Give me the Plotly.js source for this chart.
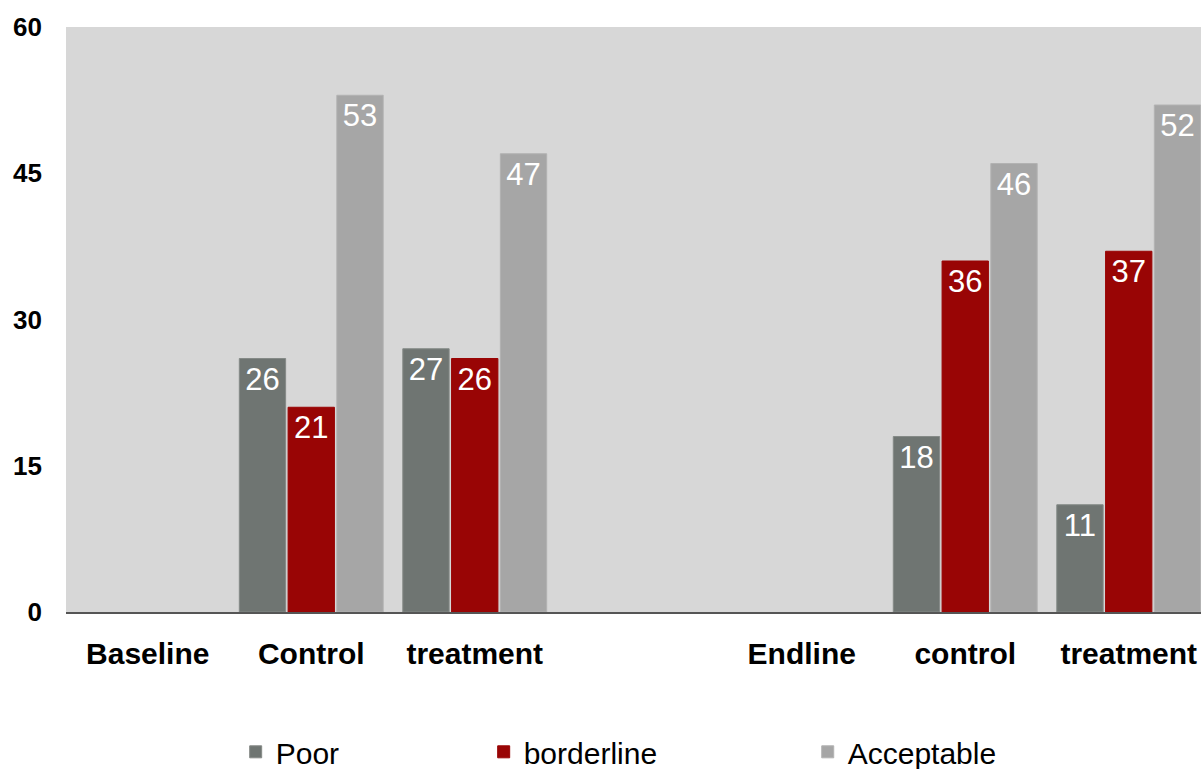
<!DOCTYPE html>
<html>
<head>
<meta charset="utf-8">
<script src="https://cdn.plot.ly/plotly-3.0.1.min.js"></script>
<style>
  html, body { margin: 0; padding: 0; background: #ffffff; }
  #chart { width: 1201px; height: 769px; }
</style>
</head>
<body>
<div id="chart"></div>
<script>
// Categories (the 4th slot is an empty spacer between the two survey rounds)
const categories = ['Baseline', 'Control', 'treatment', '', 'Endline', 'control', 'treatment'];
const seriesNames = ['Poor', 'borderline', 'Acceptable'];
const poor       = [null, 26, 27, null, null, 18, 11];
const borderline = [null, 21, 26, null, null, 36, 37];
const acceptable = [null, 53, 47, null, null, 46, 52];
const yTicks = [0, 15, 30, 45, 60];

const colors = ['#6f7572', '#990505', '#a6a6a6'];
const edgeColors = ['#858a87', '#990505', '#b2b2b2'];
const xIdx = categories.map((_, i) => i);
const FONT = 'Liberation Sans, Arial, Helvetica, sans-serif';

function mk(vals, i) {
  return {
    type: 'bar',
    name: seriesNames[i],
    x: xIdx,
    y: vals,
    text: vals.map(v => v == null ? '' : String(v)),
    textposition: 'inside',
    insidetextanchor: 'end',
    textangle: 0,
    constraintext: 'none',
    textfont: { family: FONT, size: 31, color: '#ffffff' },
    marker: { color: colors[i], line: { color: edgeColors[i], width: 1 } },
    hoverinfo: 'skip',
    legend: i === 0 ? 'legend' : 'legend' + (i + 1)
  };
}

const data = [mk(poor, 0), mk(borderline, 1), mk(acceptable, 2)];

const legendBase = {
  orientation: 'h',
  yanchor: 'middle',
  xanchor: 'left',
  y: -0.239,
  bgcolor: 'rgba(0,0,0,0)',
  font: { family: FONT, size: 30, color: '#000000' },
  itemclick: false,
  itemdoubleclick: false
};

const layout = {
  width: 1201,
  height: 769,
  margin: { l: 66, r: 0, t: 27, b: 157, pad: 0, autoexpand: false },
  paper_bgcolor: '#ffffff',
  plot_bgcolor: '#d7d7d7',
  barmode: 'group',
  bargap: 0.105,
  bargroupgap: 0.05,
  showlegend: true,
  legend:  Object.assign({}, legendBase, { x: 0.1495 }),
  legend2: Object.assign({}, legendBase, { x: 0.368 }),
  legend3: Object.assign({}, legendBase, { x: 0.6535 }),
  xaxis: {
    type: 'linear',
    range: [-0.5, 6.442],
    tickmode: 'array',
    tickvals: xIdx,
    ticktext: categories,
    ticks: '',
    showgrid: false,
    zeroline: false,
    showline: true,
    linecolor: '#555555',
    linewidth: 2,
    automargin: false,
    ticklabelstandoff: 14,
    tickfont: { family: FONT, size: 30, color: '#000000', weight: 'bold' },
    fixedrange: true
  },
  yaxis: {
    range: [0, 60],
    tickmode: 'array',
    tickvals: yTicks,
    ticktext: yTicks.map(String),
    ticks: '',
    showgrid: false,
    zeroline: false,
    showline: false,
    automargin: false,
    ticklabelstandoff: 23,
    tickfont: { family: FONT, size: 26, color: '#000000', weight: 'bold' },
    fixedrange: true
  }
};

Plotly.newPlot('chart', data, layout, { displayModeBar: false, staticPlot: true });
</script>
</body>
</html>
